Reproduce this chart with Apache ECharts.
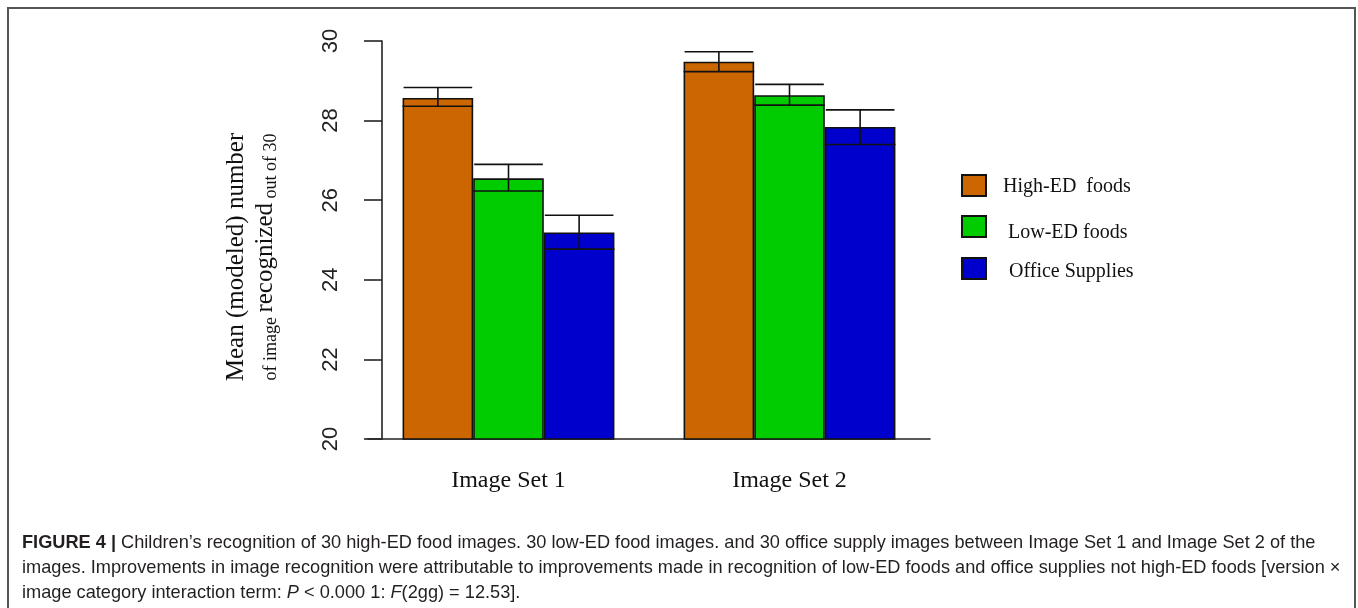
<!DOCTYPE html>
<html>
<head>
<meta charset="utf-8">
<script src="https://cdn.jsdelivr.net/npm/echarts@6/dist/echarts.min.js"></script>
<style>
html,body{margin:0;padding:0;background:#fff;}
#c{width:1358px;height:608px;}
</style>
</head>
<body>
<div id="c"></div>
<script>
// ---- data ----
var categories = ['Image Set 1', 'Image Set 2'];
var seriesNames = ['High-ED  foods', 'Low-ED foods', 'Office Supplies'];
var highED = [28.57, 29.48];
var lowED = [26.55, 28.64];
var office = [25.19, 27.84];
var highEDLower = [28.36, 29.23];
var highEDUpper = [28.83, 29.73];
var lowEDLower = [26.23, 28.39];
var lowEDUpper = [26.90, 28.91];
var officeLower = [24.77, 27.40];
var officeUpper = [25.62, 28.27];
var yTicks = [20, 22, 24, 26, 28, 30];

var colors = ['#CC6600', '#00CC00', '#0000CC'];
var values = [highED, lowED, office];
var lowers = [highEDLower, lowEDLower, officeLower];
var uppers = [highEDUpper, lowEDUpper, officeUpper];

var CAT_GAP = 0.246;

var errData = [];
for (var s = 0; s < 3; s++) {
  for (var c = 0; c < categories.length; c++) {
    errData.push([c, lowers[s][c], uppers[s][c], s]);
  }
}

var chart = echarts.init(document.getElementById('c'), null, {renderer: 'canvas'});

var serif = '"Liberation Serif", "DejaVu Serif", serif';
var sans = '"Liberation Sans", Arial, sans-serif';

var barSeries = seriesNames.map(function (name, i) {
  return {
    name: name,
    type: 'bar',
    data: values[i],
    barGap: '0%',
    barCategoryGap: (CAT_GAP * 100) + '%',
    itemStyle: {color: colors[i], borderColor: '#111', borderWidth: 1.6},
    emphasis: {disabled: true},
    z: 2
  };
});

var errSeries = {
  type: 'custom',
  name: 'err',
  data: errData,
  z: 5,
  silent: true,
  renderItem: function (params, api) {
    var cat = api.value(0), lo = api.value(1), hi = api.value(2), si = api.value(3);
    var band = api.size([1, 0])[0];
    var barW = band * (1 - CAT_GAP) / 3;
    var center = api.coord([cat, lo]);
    var x = center[0] + (si - 1) * barW;
    var yLo = center[1];
    var yHi = api.coord([cat, hi])[1];
    var st = {stroke: '#111', lineWidth: 1.6};
    return {
      type: 'group',
      children: [
        {type: 'line', shape: {x1: x - barW / 2, y1: yLo, x2: x + barW / 2, y2: yLo}, style: st},
        {type: 'line', shape: {x1: x, y1: yLo, x2: x, y2: yHi}, style: st},
        {type: 'line', shape: {x1: x - barW / 2 + 1, y1: yHi, x2: x + barW / 2 - 1, y2: yHi}, style: st}
      ]
    };
  }
};

function makeLegend(idx, top, padLeft, drop) {
  return {
    orient: 'vertical',
    left: 961,
    top: top,
    padding: 0,
    itemWidth: 24,
    itemHeight: 21,
    icon: 'rect',
    selectedMode: false,
    data: [seriesNames[idx]],
    formatter: function (name) { return '{sp|}\n{t|' + name + '}'; },
    textStyle: {
      fontFamily: serif, fontSize: 20, color: '#111',
      rich: {
        sp: {lineHeight: drop * 2, fontSize: 1},
        t: {fontFamily: serif, fontSize: 20, color: '#111', lineHeight: 21, padding: [0, 0, 0, padLeft]}
      }
    }
  };
}

var option = {
  animation: false,
  backgroundColor: '#fff',
  title: {
    left: 22,
    top: 530,
    padding: 0,
    text: '{b|FIGURE 4 |} Children\u2019s recognition of 30 high-ED food images. 30 low-ED food images. and 30 office supply images between Image Set 1 and Image Set 2 of the\n' +
      'images. Improvements in image recognition were attributable to improvements made in recognition of low-ED foods and office supplies not high-ED foods [version \u00d7\n' +
      'image category interaction term: {i|P} < 0.000 1: {i|F}(2gg) = 12.53].',
    textStyle: {
      fontFamily: sans, fontSize: 18.2, fontWeight: 'normal', color: '#231f20', lineHeight: 25,
      rich: {
        b: {fontFamily: sans, fontSize: 18.2, fontWeight: 'bold', color: '#231f20', lineHeight: 25},
        i: {fontFamily: sans, fontSize: 18.2, fontStyle: 'italic', color: '#231f20', lineHeight: 25}
      }
    }
  },
  graphic: [{
    type: 'rect',
    shape: {x: 8, y: 8, width: 1347, height: 700},
    style: {fill: 'none', stroke: '#555', lineWidth: 2},
    silent: true
  }],
  legend: [
    makeLegend(0, 174, 12, 1.5),
    makeLegend(1, 215, 17, 6.5),
    makeLegend(2, 257, 18, 3.5)
  ],
  grid: {left: 368, top: 41, width: 562, height: 398, containLabel: false},
  xAxis: {
    type: 'category',
    data: categories,
    axisLine: {lineStyle: {color: '#222', width: 1.6}},
    axisTick: {show: false},
    axisLabel: {fontFamily: serif, fontSize: 24, color: '#111', margin: 30},
    splitLine: {show: false}
  },
  yAxis: {
    type: 'value',
    min: yTicks[0],
    max: yTicks[yTicks.length - 1],
    interval: 2,
    offset: -14,
    axisLine: {show: true, lineStyle: {color: '#222', width: 1.6}},
    axisTick: {show: true, length: 18, lineStyle: {color: '#222', width: 1.6}},
    axisLabel: {rotate: 90, fontFamily: sans, fontSize: 22, color: '#222', margin: 40},
    splitLine: {show: false},
    name: '{a|Mean (modeled) number}\n{s|of image }{a|recognized}{s| out of 30}',
    nameLocation: 'middle',
    nameRotate: 90,
    nameGap: 102,
    nameTextStyle: {
      color: '#111',
      padding: [0, 34, 0, 0],
      rich: {
        a: {fontFamily: serif, fontSize: 25, color: '#111', lineHeight: 29},
        s: {fontFamily: serif, fontSize: 18, color: '#111', lineHeight: 29, verticalAlign: 'bottom'}
      }
    }
  },
  series: barSeries.concat([errSeries])
};

chart.setOption(option);
</script>
</body>
</html>
